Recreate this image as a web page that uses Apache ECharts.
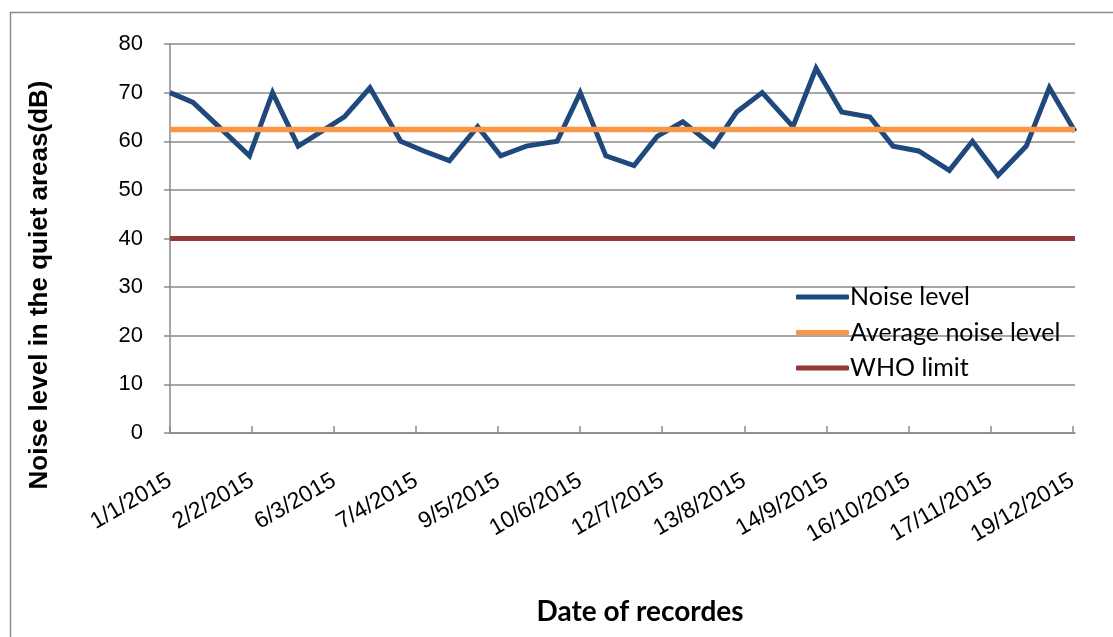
<!DOCTYPE html>
<html>
<head>
<meta charset="utf-8">
<title>Noise level in the quiet areas</title>
<script src="https://cdn.jsdelivr.net/npm/echarts@6/dist/echarts.min.js"></script>
<style>
  html, body { margin: 0; padding: 0; background: #ffffff; }
  #chart { width: 1113px; height: 637px; }
</style>
</head>
<body>
<div id="chart"></div>
<script>
// Recording dates (d/m/yyyy)
const dates = [
  '1/1/2015', '10/1/2015', '20/1/2015',
  '1/2/2015', '10/2/2015', '20/2/2015',
  '1/3/2015', '10/3/2015', '20/3/2015',
  '1/4/2015', '10/4/2015', '20/4/2015',
  '1/5/2015', '10/5/2015', '20/5/2015',
  '1/6/2015', '10/6/2015', '20/6/2015',
  '1/7/2015', '10/7/2015', '20/7/2015',
  '1/8/2015', '10/8/2015', '20/8/2015',
  '1/9/2015', '10/9/2015', '20/9/2015',
  '1/10/2015', '10/10/2015', '20/10/2015',
  '1/11/2015', '10/11/2015', '20/11/2015',
  '1/12/2015', '10/12/2015', '20/12/2015'
];

// Measured noise level, dB
const noiseLevel = [
  70, 68, 63,
  57, 70, 59,
  62, 65, 71,
  60, 58, 56,
  63, 57, 59,
  60, 70, 57,
  55, 61, 64,
  59, 66, 70,
  63, 75, 66,
  65, 59, 58,
  54, 60, 53,
  59, 71, 62
];

// Mean of the recorded levels, dB
const averageLevel = 62.4;

// WHO guideline value for quiet areas, dB
const whoLimit = 40;

// Date-axis labels, one every 32 days from 1 January
const xTickLabels = [
  '1/1/2015', '2/2/2015', '6/3/2015', '7/4/2015', '9/5/2015', '10/6/2015',
  '12/7/2015', '13/8/2015', '14/9/2015', '16/10/2015', '17/11/2015', '19/12/2015'
];
const xTickStep = 32;

const yTicks = [0, 10, 20, 30, 40, 50, 60, 70, 80];

// Day offset from 1 January 2015
function dayOffset(s) {
  const p = s.split('/').map(Number);
  return Math.round((Date.UTC(p[2], p[1] - 1, p[0]) - Date.UTC(2015, 0, 1)) / 86400000);
}

const days = dates.map(dayOffset);
const xMin = days[0];
const xMax = days[days.length - 1];

const noiseData = days.map((d, i) => [d, noiseLevel[i]]);
const averageData = days.map(d => [d, averageLevel]);
const whoData = days.map(d => [d, whoLimit]);

const axisGray = '#8a8a8a';
const sansLabel = '"Liberation Sans", Arial, sans-serif';
const sansLegend = 'Lato, "Open Sans", sans-serif';

const chart = echarts.init(document.getElementById('chart'), null, { renderer: 'canvas' });

chart.setOption({
  backgroundColor: '#ffffff',
  animation: false,
  grid: { left: 170, right: 38, top: 44, bottom: 204, containLabel: false },
  legend: {
    orient: 'vertical',
    left: 791,
    top: 278,
    itemWidth: 53,
    itemHeight: 5,
    itemGap: 7.5,
    icon: 'roundRect',
    textStyle: { fontFamily: sansLegend, fontSize: 25, color: '#000', lineHeight: 28, padding: [0, 0, 0, -4] },
    data: ['Noise level', 'Average noise level', 'WHO limit']
  },
  xAxis: {
    type: 'value',
    min: xMin,
    max: xMax,
    interval: xTickStep,
    splitLine: { show: false },
    axisLine: { show: true, lineStyle: { color: axisGray, width: 1.5 } },
    axisTick: { show: true, inside: true, length: 7, lineStyle: { color: axisGray, width: 1.5 } },
    axisLabel: {
      rotate: 30,
      margin: 46,
      fontFamily: sansLabel,
      fontSize: 23,
      color: '#000',
      showMaxLabel: false,
      formatter: v => (v % xTickStep === 0 ? (xTickLabels[v / xTickStep] || '') : '')
    }
  },
  yAxis: {
    type: 'value',
    min: yTicks[0],
    max: yTicks[yTicks.length - 1],
    interval: yTicks[1] - yTicks[0],
    axisLine: { show: true, lineStyle: { color: axisGray, width: 1.5 } },
    axisTick: { show: true, inside: false, length: 6, lineStyle: { color: axisGray, width: 1.5 } },
    splitLine: { show: true, lineStyle: { color: axisGray, width: 1.5 } },
    axisLabel: { margin: 27, fontFamily: sansLabel, fontSize: 22, color: '#000' }
  },
  series: [
    {
      name: 'Noise level',
      type: 'line',
      data: noiseData,
      showSymbol: false,
      symbol: 'none',
      color: '#1F497D',
      lineStyle: { color: '#1F497D', width: 5, join: 'miter' }
    },
    {
      name: 'Average noise level',
      type: 'line',
      data: averageData,
      showSymbol: false,
      symbol: 'none',
      color: '#F79646',
      lineStyle: { color: '#F79646', width: 5.5 }
    },
    {
      name: 'WHO limit',
      type: 'line',
      data: whoData,
      showSymbol: false,
      symbol: 'none',
      color: '#953735',
      lineStyle: { color: '#953735', width: 5 }
    }
  ],
  graphic: [
    {
      type: 'rect',
      silent: true,
      shape: { x: 10.5, y: 12.5, width: 1200, height: 700 },
      style: { fill: 'none', stroke: '#8c8c8c', lineWidth: 1.5 },
      z: -10
    },
    {
      type: 'text',
      silent: true,
      x: 40,
      y: 285,
      rotation: Math.PI / 2,
      style: {
        text: 'Noise level in the quiet areas(dB)',
        fontFamily: sansLabel,
        fontWeight: 'bold',
        fontSize: 26,
        fill: '#000',
        align: 'center',
        verticalAlign: 'middle'
      }
    },
    {
      type: 'text',
      silent: true,
      x: 640,
      y: 612,
      style: {
        text: 'Date of recordes',
        fontFamily: sansLegend,
        fontWeight: 'bold',
        fontSize: 28,
        fill: '#000',
        align: 'center',
        verticalAlign: 'middle'
      }
    }
  ]
});
</script>
</body>
</html>
